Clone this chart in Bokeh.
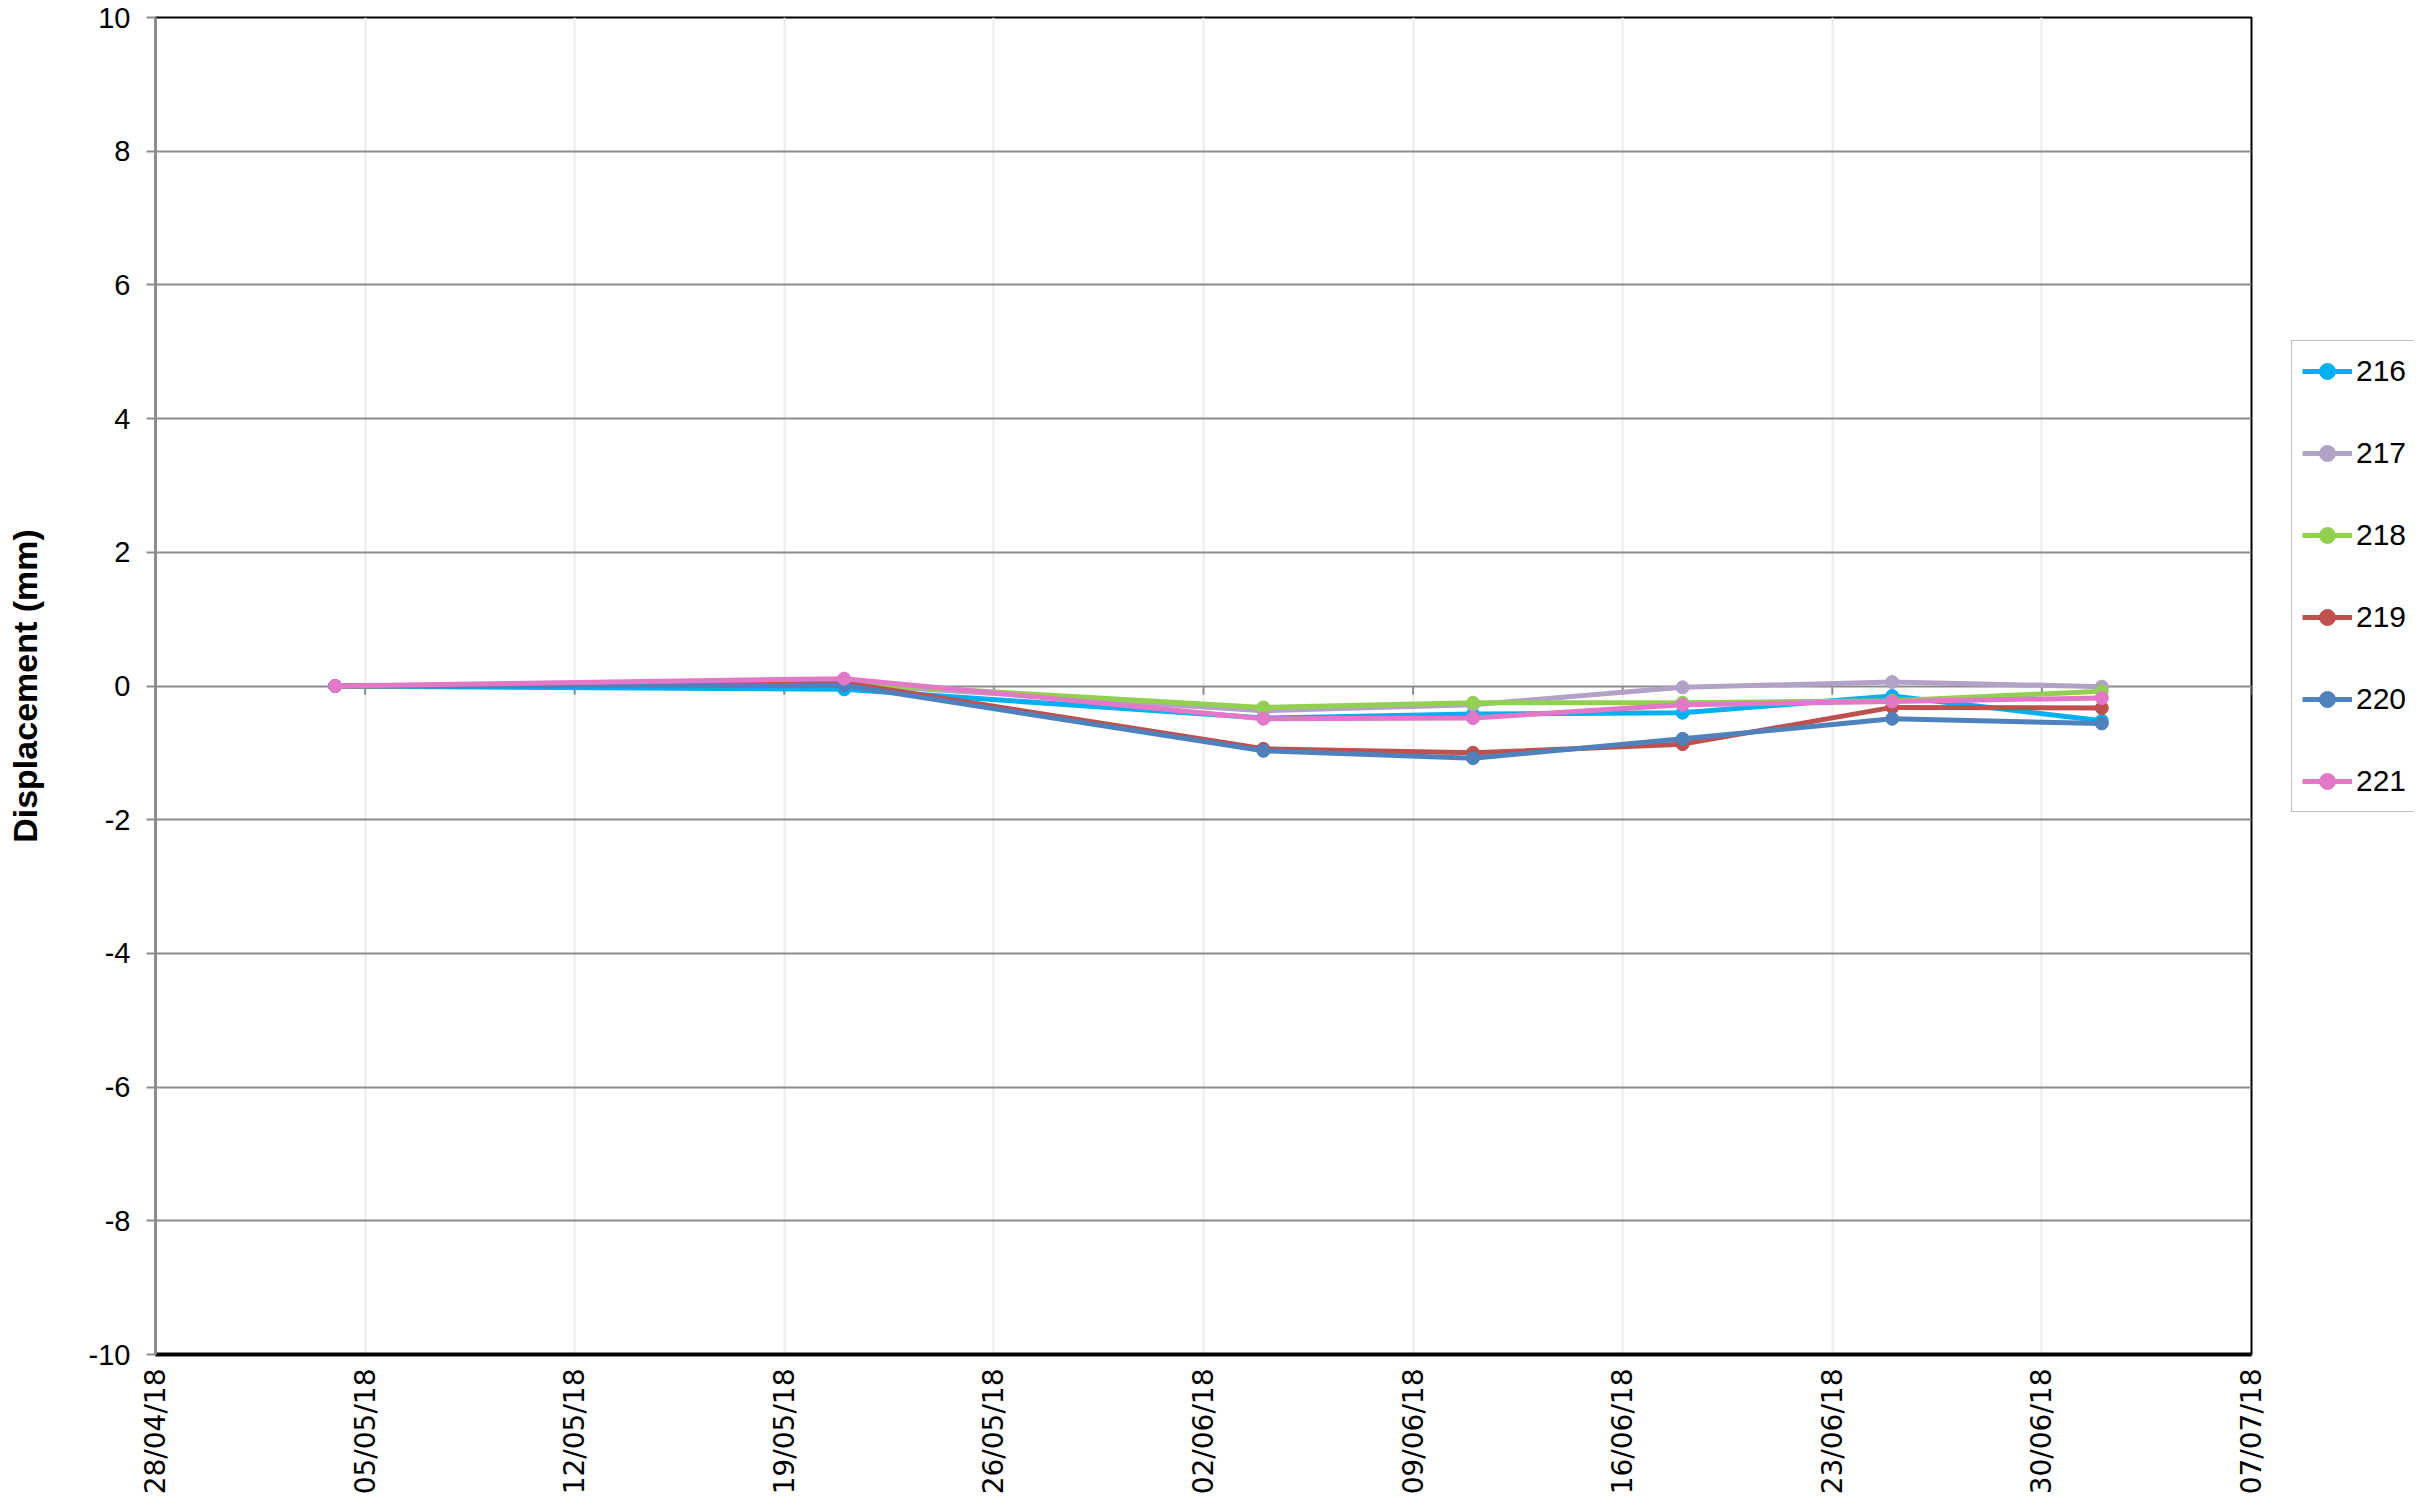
import datetime as dt
from bokeh.plotting import figure
from bokeh.layouts import row
from bokeh.models import (Range1d, FixedTicker, DatetimeTickFormatter, Legend, LegendItem)
from bokeh.embed import file_html
from bokeh.resources import INLINE
from math import pi

# ---------------- data ----------------
dates = ["2018-05-04", "2018-05-21", "2018-06-04", "2018-06-11", "2018-06-18", "2018-06-25", "2018-07-02"]
s216 = [0.0, -0.05, -0.48, -0.42, -0.40, -0.15, -0.52]
s217 = [0.0, 0.03, -0.37, -0.28, -0.02, 0.06, -0.01]
s218 = [0.0, 0.04, -0.32, -0.25, -0.25, -0.22, -0.08]
s219 = [0.0, 0.05, -0.94, -1.00, -0.87, -0.32, -0.33]
s220 = [0.0, 0.01, -0.97, -1.08, -0.79, -0.49, -0.56]
s221 = [0.0, 0.11, -0.49, -0.48, -0.28, -0.23, -0.18]
series_names = ["216", "217", "218", "219", "220", "221"]
series_values = [s216, s217, s218, s219, s220, s221]
series_colors = ["#00B0F0", "#B3A2C7", "#92D050", "#C0504D", "#4F81BD", "#E377C8"]

x_tick_dates = ["2018-04-28", "2018-05-05", "2018-05-12", "2018-05-19", "2018-05-26",
                "2018-06-02", "2018-06-09", "2018-06-16", "2018-06-23", "2018-06-30", "2018-07-07"]
y_ticks = [-10, -8, -6, -4, -2, 0, 2, 4, 6, 8, 10]
y_tick_labels = ["-10", "-8", "-6", "-4", "-2", "0", "2", "4", "6", "8", "10"]
y_title = "Displacement (mm)"


def to_dt(s):
    return dt.datetime.strptime(s, "%Y-%m-%d")


def to_ms(s):
    return (to_dt(s) - dt.datetime(1970, 1, 1)).total_seconds() * 1000.0


xs = [to_dt(d) for d in dates]
tick_ms = [to_ms(d) for d in x_tick_dates]

H = 1497
p = figure(width=2280, height=H, x_axis_type="datetime",
           output_backend="svg", toolbar_location=None,
           x_range=Range1d(to_dt(x_tick_dates[0]), to_dt(x_tick_dates[-1])),
           y_range=Range1d(y_ticks[0], y_ticks[-1]),
           min_border_left=155, min_border_right=29, min_border_top=17, min_border_bottom=10)

p.background_fill_color = "white"
p.border_fill_color = "white"
p.outline_line_color = "black"
p.outline_line_width = 2

# grids
p.xgrid.ticker = FixedTicker(ticks=tick_ms)
p.xgrid.grid_line_color = "#EBEBEB"
p.xgrid.grid_line_width = 2
p.ygrid.ticker = FixedTicker(ticks=y_ticks)
p.ygrid.grid_line_color = "#8C8C8C"
p.ygrid.grid_line_width = 2

# x axis
p.xaxis.ticker = FixedTicker(ticks=tick_ms)
p.xaxis.formatter = DatetimeTickFormatter(days="%d/%m/%y", months="%d/%m/%y", years="%d/%m/%y")
p.xaxis.major_label_orientation = pi / 2
p.xaxis.major_label_text_font = "DejaVu Sans"
p.xaxis.major_label_text_font_size = "28px"
p.xaxis.major_label_text_color = "black"
p.xaxis.major_label_standoff = 14
p.xaxis.major_tick_out = 0
p.xaxis.major_tick_in = 0
p.xaxis.minor_tick_out = 0
p.xaxis.minor_tick_in = 0
p.xaxis.axis_line_color = "black"
p.xaxis.axis_line_width = 4

# y axis
p.yaxis.ticker = FixedTicker(ticks=y_ticks)
p.yaxis.major_label_overrides = {t: l for t, l in zip(y_ticks, y_tick_labels)}
p.yaxis.major_label_text_font = "Liberation Sans Narrow, Liberation Sans"
p.yaxis.major_label_text_font_size = "29px"
p.yaxis.major_label_text_color = "black"
p.yaxis.major_label_standoff = 16
p.yaxis.major_tick_out = 9
p.yaxis.major_tick_in = 0
p.yaxis.minor_tick_out = 0
p.yaxis.minor_tick_in = 0
p.yaxis.major_tick_line_color = "#8C8C8C"
p.yaxis.major_tick_line_width = 2
p.yaxis.axis_line_color = "#8C8C8C"
p.yaxis.axis_line_width = 3
p.yaxis.axis_label = y_title
p.yaxis.axis_label_text_font = "Liberation Sans"
p.yaxis.axis_label_text_font_style = "bold"
p.yaxis.axis_label_text_font_size = "34px"
p.yaxis.axis_label_text_color = "black"
p.yaxis.axis_label_standoff = 42

# tick marks on the zero line (category axis crosses at 0)
p.segment(x0=[to_dt(d) for d in x_tick_dates], y0=[0] * len(x_tick_dates),
          x1=[to_dt(d) for d in x_tick_dates], y1=[-0.13] * len(x_tick_dates),
          line_color="#8C8C8C", line_width=2)

for name, vals, col in zip(series_names, series_values, series_colors):
    p.line(xs, vals, line_color=col, line_width=5)
    p.scatter(xs, vals, size=13, fill_color=col, line_color=col, marker="circle")

# ---------------- legend panel (same series, drawn outside its visible range) ----------------
p2 = figure(width=134, height=H, output_backend="svg", toolbar_location=None,
            x_axis_location=None, y_axis_location=None,
            x_range=Range1d(0, 1), y_range=Range1d(0, 1),
            min_border_left=0, min_border_right=0, min_border_top=0, min_border_bottom=0)
p2.grid.visible = False
p2.outline_line_color = None
p2.background_fill_color = "white"
p2.border_fill_color = "white"

items = []
for name, vals, col in zip(series_names, series_values, series_colors):
    r1 = p2.line(xs, vals, line_color=col, line_width=5)
    r2 = p2.scatter(xs, vals, size=13, fill_color=col, line_color=col, marker="circle")
    items.append(LegendItem(label=name, renderers=[r1, r2]))

legend = Legend(items=items, location=(11, 542))
legend.label_text_font = "Liberation Sans"
legend.label_text_font_size = "30px"
legend.label_text_color = "black"
legend.glyph_width = 50
legend.glyph_height = 40
legend.label_height = 40
legend.label_standoff = 4
legend.spacing = 42
legend.padding = 10
legend.margin = 0
legend.border_line_color = "#808080"
legend.border_line_width = 1.5
legend.background_fill_color = "white"
legend.background_fill_alpha = 1
p2.add_layout(legend, "center")

layout = row(p, p2)
open("out.html", "w").write(file_html(layout, INLINE))
